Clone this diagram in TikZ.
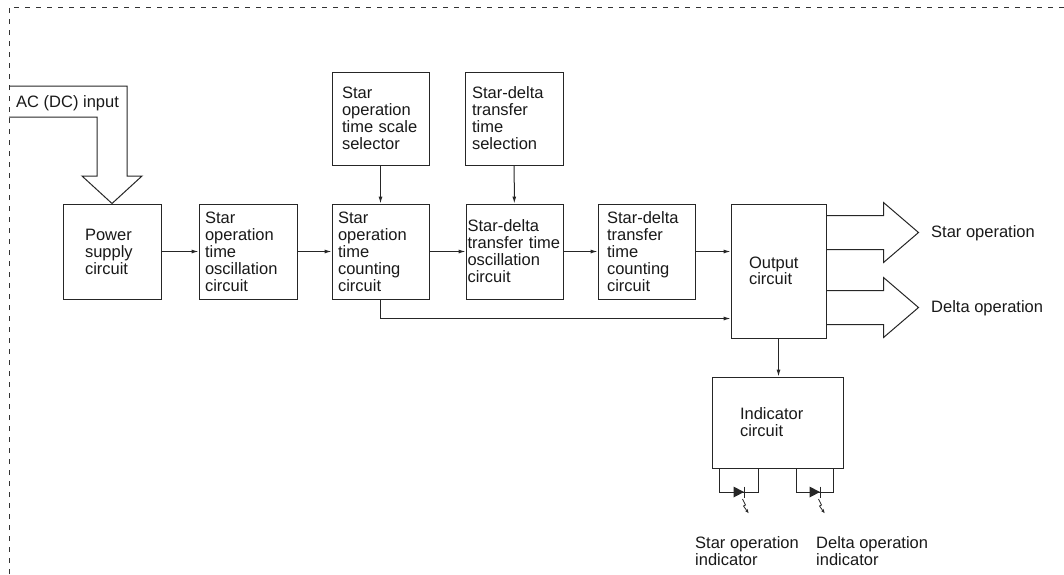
\documentclass[tikz,border=0pt]{standalone}
\usepackage{fontspec}
\setmainfont{Liberation Sans}
\usetikzlibrary{arrows.meta,calc}
\def\ledmark(#1){\fill[black!85] ($(#1)+(-6,-5.5)$) -- ($(#1)+(-6,5.5)$) -- ($(#1)+(4.5,0)$) -- cycle;
	\draw[line width=1.1pt, black!85] ($(#1)+(5,-5.5)$) -- ($(#1)+(5,5.5)$);
	\draw[line width=0.8pt, black!85, -{Stealth[length=4pt,width=3.5pt]}] ($(#1)+(3,7)$) -- ($(#1)+(6,13)$) -- ($(#1)+(4,14)$) -- ($(#1)+(9,21)$);}
\tikzset{
	block/.style={draw=black!85, line width=1pt, align=left, minimum height=95pt, inner ysep=0pt, text=black!90, font=\fontsize{16.5}{17}\selectfont},
	flow/.style={draw=black!85, line width=1pt, -{Latex[length=7pt,width=4pt]}},
	outline/.style={draw=black!85, line width=1pt, line join=miter},
	tag/.style={align=left, inner sep=0pt, text=black!90, font=\fontsize{16.5}{17}\selectfont}
}
\begin{document}
\begin{tikzpicture}[x=1pt, y=-1pt]
			%%%%% START %%%%%
			\useasboundingbox (0,0) rectangle (1064,574);
			
			\draw[black!80, line width=0.8pt, dash pattern=on 5pt off 6pt] (9,574) -- (9,7) -- (1064,7);
			
			\node[block, text width=54pt, inner xsep=22pt] (pwr) at (112,251.5) {Power\\supply\\circuit};
			\node[block, text width=86pt, inner xsep=6pt] (osc) at (248,251.5) {Star\\operation\\time\\oscillation\\circuit};
			\node[block, text width=85pt, inner xsep=6pt] (cnt) at (380.5,251.5) {Star\\operation\\time\\counting\\circuit};
			\node[block, text width=94pt, inner xsep=1.5pt] (sdosc) at (514.5,251.5) {Star-delta\\transfer time\\oscillation\\circuit};
			\node[block, text width=79pt, inner xsep=9pt] (sdcnt) at (646.5,251.5) {Star-delta\\transfer\\time\\counting\\circuit};
			\node[block, text width=77pt, inner xsep=10pt, minimum height=93pt] (sel) at (380.5,118.5) {Star\\operation\\time scale\\selector};
			\node[block, text width=84pt, inner xsep=7pt, minimum height=93pt] (tsel) at (514,118.5) {Star-delta\\transfer\\time\\selection};
			\node[block, text width=59pt, inner xsep=18pt, minimum height=134pt, font=\fontsize{16.5}{15}\selectfont] (out) at (778.5,271) {Output\\circuit};
			\node[block, text width=75pt, inner xsep=28pt, minimum height=91pt] (ind) at (777.5,422.5) {Indicator\\circuit};
			
			\draw[flow] (pwr) -- (osc);
			\draw[flow] (osc) -- (cnt);
			\draw[flow] (cnt) -- (sdosc);
			\draw[flow] (sdosc) -- (sdcnt);
			\draw[flow] (sdcnt.east) -- (sdcnt.east -| out.west);
			\draw[flow] (sel) -- (cnt);
			\draw[flow] (tsel) -- (sdosc);
			\draw[flow] (cnt.south) |- ($(out.south west)+(0,-20)$);
			\draw[flow] (out.south) -- (out.south |- ind.north);
			
			\draw[outline] (9,86) -- (127,86) -- (127,176) -- (142,176) -- (pwr.north) -- (82,176) -- (97,176) -- (97,117) -- (9,117);
			\node[tag, anchor=west] (acin) at (16,103) {AC (DC) input};
			
			\draw[outline] ($(out.north east)+(0,12)$) -- ++(57,0) -- ++(0,-13) -- ++(35,30) -- ++(-35,30) -- ++(0,-13) -- ++(-57,0);
			\draw[outline] ($(out.north east)+(0,87)$) -- ++(57,0) -- ++(0,-13) -- ++(35,30) -- ++(-35,30) -- ++(0,-13) -- ++(-57,0);
			\node[tag, anchor=west] (staro) at (931,233) {Star operation};
			\node[tag, anchor=west] (deltao) at (931,308) {Delta operation};
			
			\draw[outline] ($(ind.south west)+(8,0)$) -- ++(0,24) -- ++(39,0) -- ++(0,-24);
			\draw[outline] ($(ind.south west)+(85,0)$) -- ++(0,24) -- ++(37,0) -- ++(0,-24);
			\ledmark(739.5,492)
			\ledmark(815.5,492)
			\node[tag, anchor=west] (starind) at (695,551.5) {Star operation\\indicator};
			\node[tag, anchor=west] (deltaind) at (816,551.5) {Delta operation\\indicator};
			
			%%%%% END %%%%%
\end{tikzpicture}
\end{document}
